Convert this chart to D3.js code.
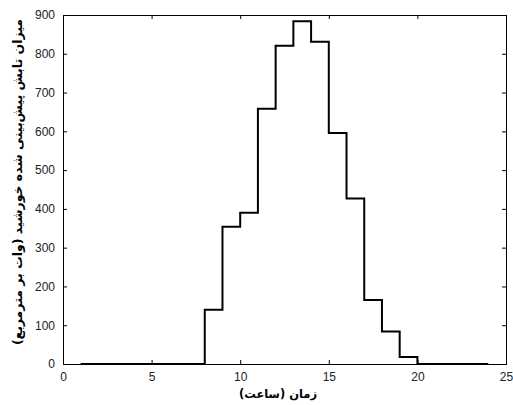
<!DOCTYPE html>
<html><head><meta charset="utf-8">
<script src="https://cdn.jsdelivr.net/npm/d3@7"></script>
<style>body{margin:0;background:#fff}svg{display:block}</style>
</head><body>
<svg id="c" width="513" height="405"></svg>
<script>
const hours = [1,2,3,4,5,6,7,8,9,10,11,12,13,14,15,16,17,18,19,20,21,22,23,24];
const irradiance = [0,0,0,0,0,0,0,140,354,390,658,821,884,831,596,427,165,84,18,0,0,0,0,0];
const xTicks = [0,5,10,15,20,25];
const yTicks = [0,100,200,300,400,500,600,700,800,900];
const xLabel = "زمان (ساعت)";
const yLabel = "میزان تابش پیش‌بینی شده خورشید (وات بر مترمربع)";

const svg = d3.select("#c");
const L = 63, R = 506, T = 15, B = 364;
const x = d3.scaleLinear().domain([0,25]).range([L,R]);
const y = d3.scaleLinear().domain([0,900]).range([B,T]);

svg.append("rect").attr("x",0).attr("y",0).attr("width",513).attr("height",405).attr("fill","#fff");

const data = hours.map((h,i)=>({h, v: irradiance[i]}));
const line = d3.line().x(d=>x(d.h)).y(d=>y(d.v)).curve(d3.curveStepAfter);
svg.append("path").datum(data).attr("d",line).attr("fill","none")
  .attr("stroke","#000").attr("stroke-width",2);

// axes (MATLAB style: box, inward ticks)
const font = "'Liberation Sans', Arial, sans-serif";
const axB = svg.append("g").attr("transform",`translate(0,${B})`)
  .call(d3.axisBottom(x).tickValues(xTicks).tickSize(-4).tickPadding(8).tickFormat(d3.format("d")));
const axT = svg.append("g").attr("transform",`translate(0,${T})`)
  .call(d3.axisTop(x).tickValues(xTicks).tickSize(-4).tickFormat(""));
const axL = svg.append("g").attr("transform",`translate(${L},0)`)
  .call(d3.axisLeft(y).tickValues(yTicks).tickSize(-4).tickPadding(8).tickFormat(d3.format("d")));
const axR = svg.append("g").attr("transform",`translate(${R},0)`)
  .call(d3.axisRight(y).tickValues(yTicks).tickSize(-4).tickFormat(""));
[axB,axT,axL,axR].forEach(g=>{
  g.selectAll(".domain").attr("stroke","#000").attr("stroke-width",1);
  g.selectAll(".tick line").attr("stroke","#000");
  g.selectAll("text").attr("font-family",font).attr("font-size",12).attr("fill","#222");
});

svg.append("text").attr("x",278).attr("y",398).attr("text-anchor","middle")
  .attr("font-family","'DejaVu Sans', sans-serif").attr("font-size",11.5).attr("font-weight","bold")
  .attr("direction","rtl").text(xLabel);
svg.append("text").attr("transform","translate(22,182) rotate(-90)").attr("text-anchor","middle")
  .attr("font-family","'DejaVu Sans', sans-serif").attr("font-size",12.5).attr("font-weight","bold")
  .attr("direction","rtl").text(yLabel);
</script>
</body></html>
